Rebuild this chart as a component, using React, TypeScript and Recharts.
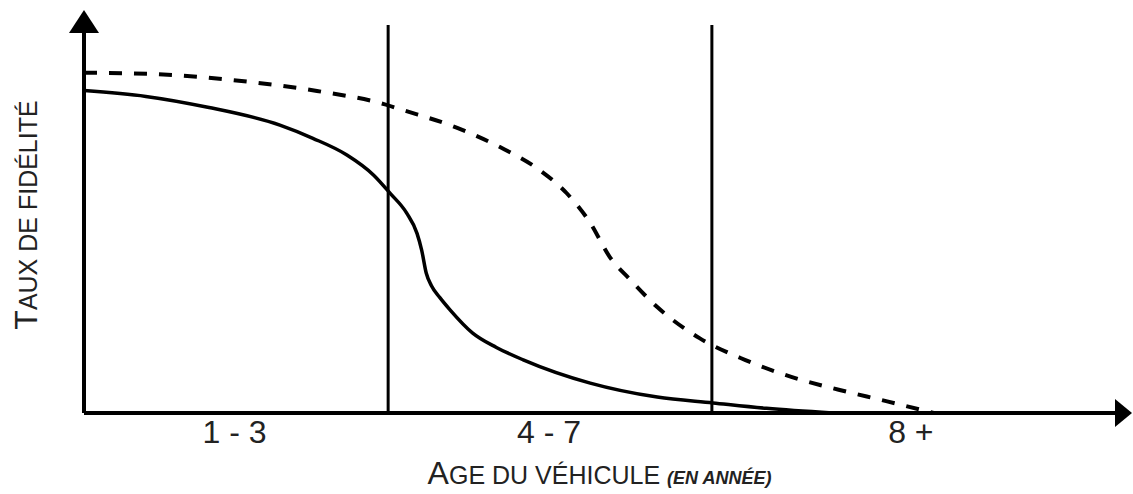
import React from 'react'
import { LineChart, Line, XAxis, YAxis, ReferenceLine, ReferenceDot } from 'recharts'

// x: position along the age axis (0-100), y: loyalty rate (0-100)
const ageGroups = ['1 - 3', '4 - 7', '8 +']
const groupCenters = [14.6, 45.1, 80.2]
const groupDividers = [29.5, 60.9]

const solidCurve = [
  { x: 0, y: 83.1 }, { x: 6, y: 81.6 }, { x: 12, y: 78.8 }, { x: 19.0, y: 74.2 },
  { x: 22.2, y: 70.8 }, { x: 25.5, y: 66.5 }, { x: 28.1, y: 61.3 }, { x: 29.7, y: 56.6 },
  { x: 31.3, y: 51.5 }, { x: 32.3, y: 46.3 }, { x: 32.75, y: 42.0 }, { x: 33.2, y: 36.0 },
  { x: 33.7, y: 32.8 }, { x: 34.5, y: 29.8 }, { x: 35.5, y: 26.6 }, { x: 37.7, y: 20.6 },
  { x: 40.0, y: 16.9 }, { x: 42.6, y: 13.7 }, { x: 49.1, y: 7.7 }, { x: 55.6, y: 4.1 },
  { x: 61.0, y: 2.6 }, { x: 66.2, y: 1.2 }, { x: 72.6, y: 0 },
]

const dashedCurve = [
  { x: 0, y: 87.7 }, { x: 6.4, y: 87.4 }, { x: 16.8, y: 85.1 }, { x: 22.6, y: 83.0 },
  { x: 29.1, y: 79.6 }, { x: 30.9, y: 78.1 }, { x: 36.2, y: 73.5 }, { x: 40.3, y: 68.6 },
  { x: 44.2, y: 62.6 }, { x: 46.8, y: 56.7 }, { x: 49.1, y: 49.0 }, { x: 51.0, y: 40.2 },
  { x: 53.0, y: 34.3 }, { x: 55.6, y: 27.3 }, { x: 59.7, y: 19.3 }, { x: 64.1, y: 13.7 },
  { x: 68.6, y: 9.3 }, { x: 73.2, y: 6.0 }, { x: 77.9, y: 3.0 }, { x: 82.4, y: 0 },
]

const FONT = '"Liberation Sans", Arial, sans-serif'
const INK = '#222'

function AgeTick({ x, y, payload }: any) {
  const i = groupCenters.indexOf(payload.value)
  return (
    <text x={x} y={y} dy={30} textAnchor="middle" fontSize={32} fill={INK} fontFamily={FONT}>
      {ageGroups[i]}
    </text>
  )
}

function XTitle({ viewBox }: any) {
  const cx = viewBox.x + viewBox.width / 2
  return (
    <text x={cx} y={viewBox.y + 71} textAnchor="middle" fill={INK} fontFamily={FONT}>
      <tspan fontSize={32}>A</tspan>
      <tspan fontSize={25}>GE DU VÉHICULE </tspan>
      <tspan fontSize={18} fontWeight="bold" fontStyle="italic">(EN ANNÉE)</tspan>
    </text>
  )
}

function YTitle({ viewBox }: any) {
  const x = viewBox.x + 37
  const y = viewBox.y + viewBox.height / 2 - 4
  return (
    <text x={x} y={y} textAnchor="middle" fill={INK} fontFamily={FONT} transform={`rotate(-90, ${x}, ${y})`}>
      <tspan fontSize={32}>T</tspan>
      <tspan fontSize={25}>AUX DE FIDÉLITÉ</tspan>
    </text>
  )
}

const upArrow = ({ cx, cy }: any) => (
  <path d={`M${cx},${cy - 15} L${cx + 15},${cy + 8} L${cx - 15},${cy + 8} Z`} fill="#000" />
)
const rightArrow = ({ cx, cy }: any) => (
  <path d={`M${cx + 17},${cy} L${cx},${cy - 14} L${cx},${cy + 14} Z`} fill="#000" />
)

export default function App() {
  return (
    <div style={{ position: 'absolute', left: 0, top: 0, background: '#fff' }}>
      <LineChart width={1133} height={494} margin={{ top: 25, right: 18, left: 0, bottom: 0 }}>
        <XAxis
          type="number"
          dataKey="x"
          domain={[0, 100]}
          ticks={groupCenters}
          tick={<AgeTick />}
          tickLine={false}
          tickSize={0}
          tickMargin={0}
          height={81}
          axisLine={{ stroke: '#000', strokeWidth: 4 }}
          label={<XTitle />}
        />
        <YAxis
          type="number"
          domain={[0, 100]}
          tick={false}
          tickLine={false}
          width={84}
          axisLine={{ stroke: '#000', strokeWidth: 4 }}
          label={<YTitle />}
        />
        {groupDividers.map(d => (
          <ReferenceLine key={d} x={d} stroke="#000" strokeWidth={3} />
        ))}
        <Line data={dashedCurve} dataKey="y" type="monotone" stroke="#000" strokeWidth={4}
          strokeDasharray="13 12" dot={false} isAnimationActive={false} />
        <Line data={solidCurve} dataKey="y" type="monotone" stroke="#000" strokeWidth={3.5}
          dot={false} isAnimationActive={false} />
        <ReferenceDot x={0} y={100} r={0} shape={upArrow} ifOverflow="visible" />
        <ReferenceDot x={100} y={0} r={0} shape={rightArrow} ifOverflow="visible" />
      </LineChart>
    </div>
  )
}
